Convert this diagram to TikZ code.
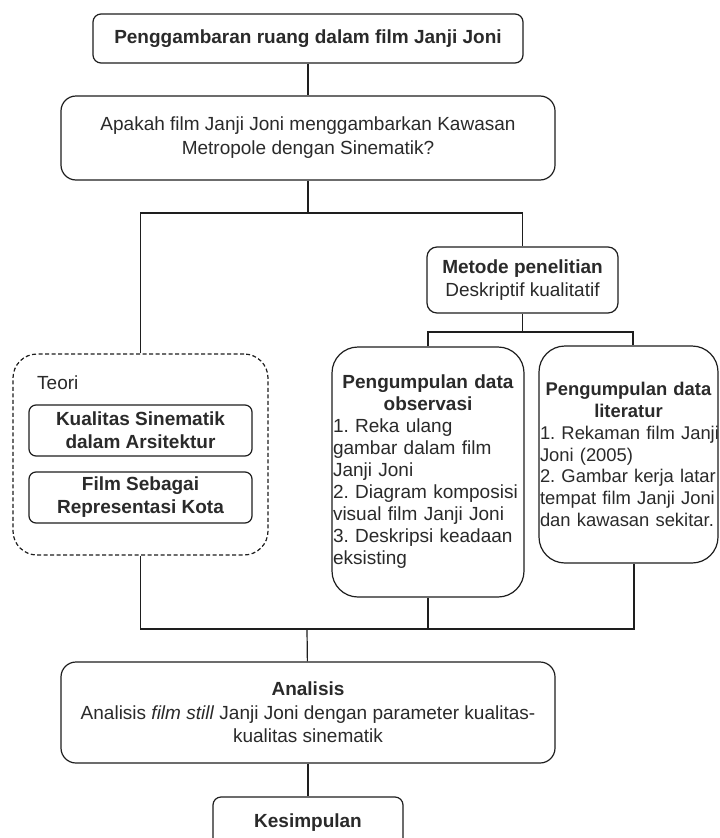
\documentclass[tikz,border=0pt]{standalone}
\usepackage{fontspec}
\setmainfont{Liberation Sans}
\usepackage{xcolor}

\definecolor{garis}{HTML}{1E1E1E}
\definecolor{teks}{HTML}{2A2A2A}

\begin{document}
\begin{tikzpicture}[x=1pt,y=-1pt,
  every node/.style={text=teks, font=\fontsize{19}{22}\selectfont\frenchspacing},
  kotak/.style={draw=garis, line width=1.2pt, rounded corners=#1, align=center, inner sep=1pt},
  kotak/.default=8pt,
  penghubung/.style={draw=garis, line width=1.2pt}]
  \path[use as bounding box, fill=white] (0,0) rectangle (720,838);

  % Judul dan rumusan masalah
  \node[kotak, minimum width=430pt, minimum height=49pt] (judul) at (308,38.5)
    {\textbf{Penggambaran ruang dalam film Janji Joni}};
  \node[kotak=15pt, minimum width=494pt, minimum height=84pt,
        font=\fontsize{19}{24}\selectfont] (rumusan) at (308,138)
    {Apakah film Janji Joni menggambarkan Kawasan\\ Metropole dengan Sinematik?};
  \coordinate (cabang) at (308,213);

  % Metode penelitian
  \node[kotak=10pt, minimum width=191pt, minimum height=66pt,
        font=\fontsize{19}{23}\selectfont] (metode) at (522.5,280)
    {\textbf{Metode penelitian}\\ Deskriptif kualitatif};
  \coordinate (cabangmetode) at (522.5,332);

  % Teori
  \node[draw=garis, line width=1.2pt, dash pattern=on 4pt off 2.5pt, rounded corners=24pt,
        minimum width=255pt, minimum height=201pt] (teori) at (140.5,454.5) {};
  \node[anchor=west, inner sep=0pt] (labelteori) at (37,383) {Teori};
  \node[kotak=7pt, minimum width=223pt, minimum height=51pt,
        font=\fontsize{19}{23}\selectfont\bfseries] (kualitas) at (140.5,430.5)
    {Kualitas Sinematik\\ dalam Arsitektur};
  \node[kotak=7pt, minimum width=223pt, minimum height=51pt,
        font=\fontsize{19}{23}\selectfont\bfseries] (film) at (140.5,497.5)
    {Film Sebagai\\ Representasi Kota};

  % Pengumpulan data
  \node[kotak=26pt, minimum width=192pt, minimum height=250pt, text width=190pt,
        align=left] (observasi) at (428,472)
    {\centering\textbf{Pengumpulan data}\\ \textbf{observasi}\par
     \raggedright\mbox{1. Reka ulang}\\ \mbox{gambar dalam film}\\ \mbox{Janji Joni}\\
     \mbox{2. Diagram komposisi}\\ \mbox{visual film Janji Joni}\\
     \mbox{3. Deskripsi keadaan}\\ \mbox{eksisting}};
  \node[kotak=26pt, minimum width=179pt, minimum height=217pt, text width=177pt,
        align=left, font=\fontsize{18.4}{21.7}\selectfont\frenchspacing] (literatur) at (628.5,454.5)
    {\centering\mbox{\textbf{Pengumpulan data}}\\ \textbf{literatur}\par
     \raggedright\mbox{1. Rekaman film Janji}\\ \mbox{Joni (2005)}\\
     \mbox{2. Gambar kerja latar}\\ \mbox{tempat film Janji Joni}\\
     \mbox{dan kawasan sekitar.}};
  \coordinate (gabung) at (307,629);

  % Analisis dan kesimpulan
  \node[kotak=15pt, minimum width=494pt, minimum height=101pt,
        font=\fontsize{19}{23.5}\selectfont] (analisis) at (308,712.5)
    {\textbf{Analisis}\\ Analisis \textit{film still} Janji Joni dengan parameter kualitas-\\ kualitas sinematik};
  \node[kotak, minimum width=190pt, minimum height=51pt] (kesimpulan) at (308,822.5)
    {\textbf{Kesimpulan}};

  % Garis penghubung
  \draw[penghubung] (judul) -- (rumusan);
  \draw[penghubung] (rumusan) -- (cabang);
  \draw[penghubung] (teori.north) -- (teori.north |- cabang) -| (metode.north);
  \draw[penghubung] (metode) -- (cabangmetode);
  \draw[penghubung] (observasi.north) -- (observasi.north |- cabangmetode)
    -| ([xshift=4.5pt]literatur.north);
  \draw[penghubung] (teori.south) -- (teori.south |- gabung)
    -| ([xshift=5.5pt]literatur.south);
  \draw[penghubung] (observasi.south) -- (observasi.south |- gabung);
  \draw[penghubung] (gabung) -- (analisis);
  \draw[penghubung] (analisis) -- (kesimpulan);
\end{tikzpicture}
\end{document}
